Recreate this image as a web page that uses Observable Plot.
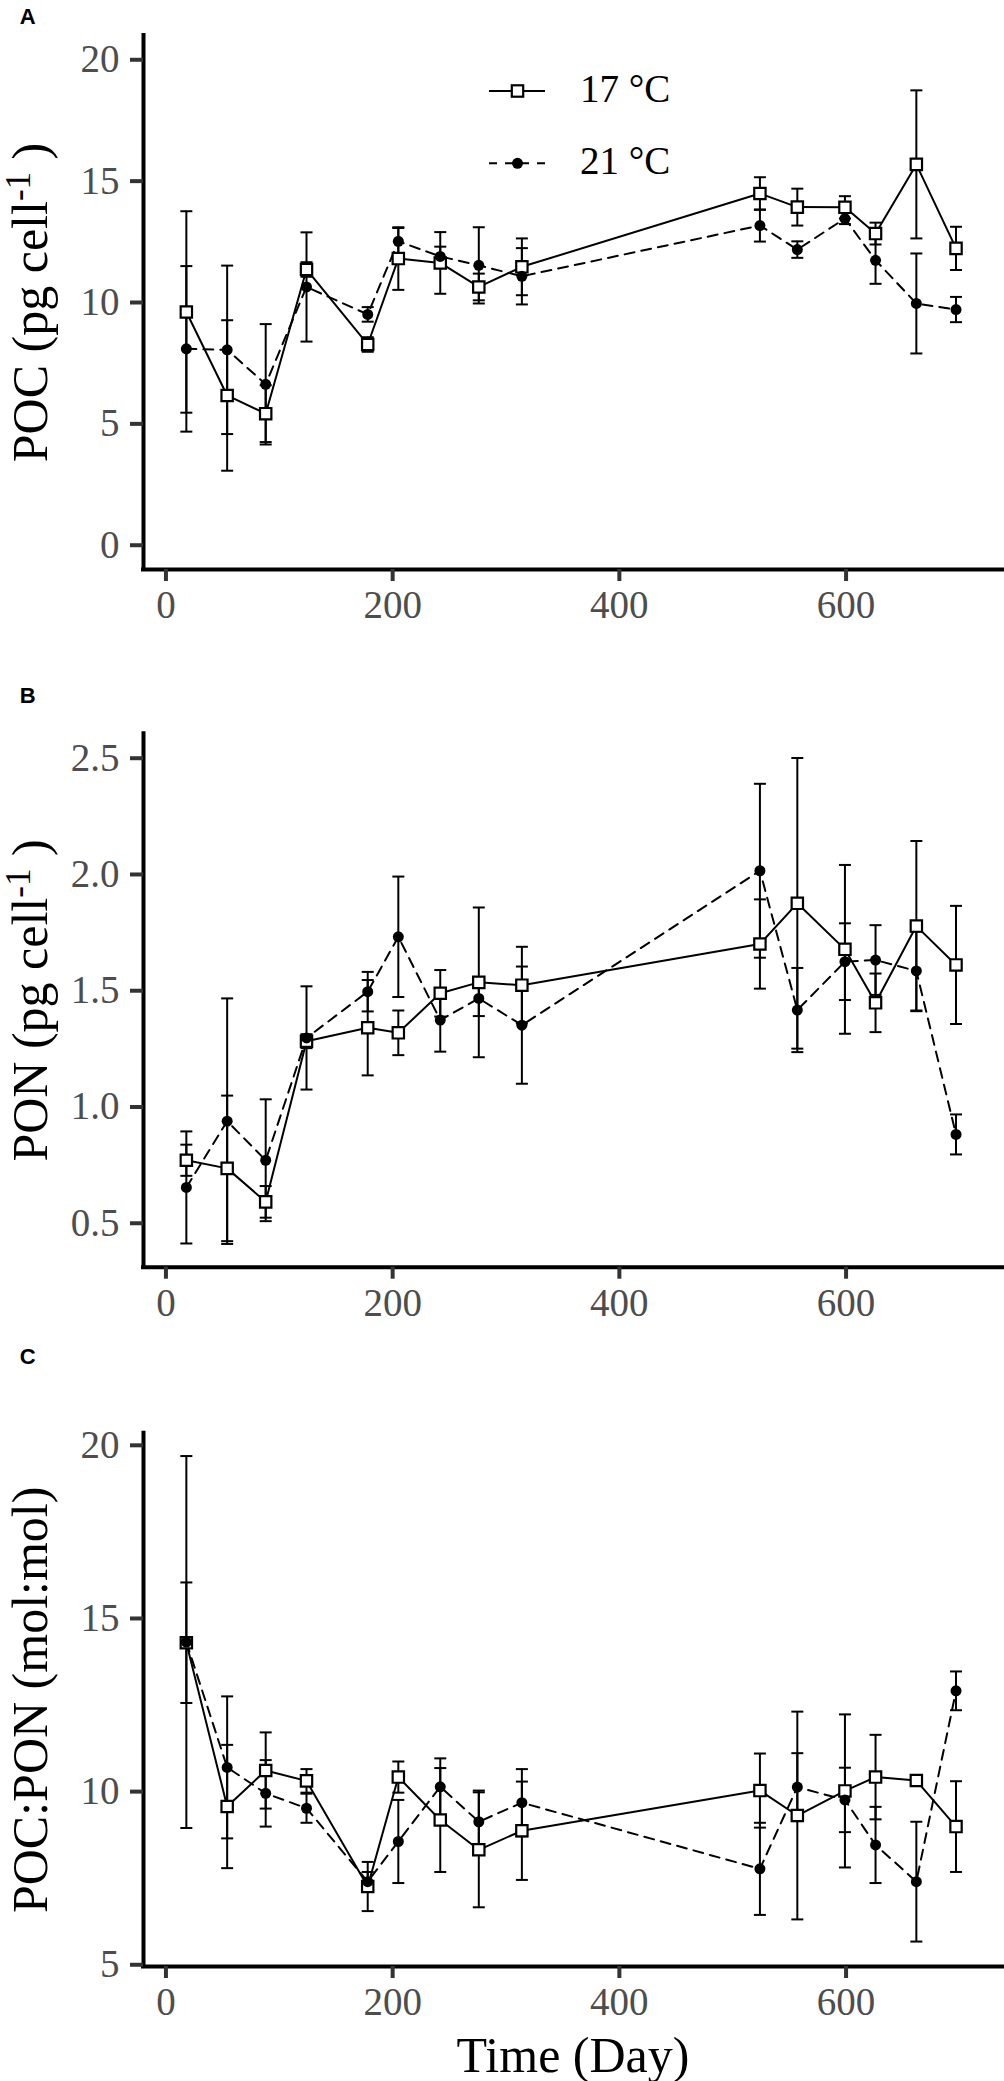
<!DOCTYPE html>
<html>
<head>
<meta charset="utf-8">
<script src="https://cdn.jsdelivr.net/npm/d3@7"></script>
<script src="https://cdn.jsdelivr.net/npm/@observablehq/plot@0.6"></script>
<style>
html, body { margin: 0; padding: 0; background: #ffffff; }
#chart { width: 1004px; position: relative; }
#chart svg { display: block; }
</style>
</head>
<body>
<div id="chart"></div>
<script>
// ---------- data ----------
const days = [18, 54, 88, 124, 178, 205, 242, 276, 314, 524, 557, 599, 626, 662, 697];
const seriesNames = ["17 °C", "21 °C"];

const poc17   = [9.61, 6.17, 5.42, 11.36, 8.27, 11.81, 11.63, 10.64, 11.47, 14.49, 13.93, 13.92, 12.84, 15.69, 12.23];
const poc17sd = [4.15, 3.10, 1.17, 0.30, 0.30, 1.29, 1.27, 0.55, 1.17, 0.67, 0.76, 0.46, 0.45, 3.05, 0.89];
const poc21   = [8.09, 8.05, 6.63, 10.64, 9.51, 12.52, 11.90, 11.53, 11.08, 13.17, 12.18, 13.46, 11.74, 9.96, 9.71];
const poc21sd = [3.41, 3.47, 2.48, 2.25, 0.30, 0.55, 0.40, 1.57, 1.16, 0.66, 0.34, 0.23, 0.97, 2.06, 0.52];

const pon17   = [0.771, 0.736, 0.592, 1.283, 1.341, 1.319, 1.489, 1.536, 1.524, 1.701, 1.876, 1.678, 1.448, 1.778, 1.611];
const pon17sd = [0.067, 0.313, 0.068, 0.030, 0.205, 0.096, 0.100, 0.322, 0.165, 0.192, 0.625, 0.363, 0.126, 0.366, 0.254];
const pon21   = [0.654, 0.939, 0.771, 1.297, 1.496, 1.732, 1.374, 1.467, 1.352, 2.016, 1.417, 1.625, 1.632, 1.585, 0.882];
const pon21sd = [0.241, 0.528, 0.262, 0.222, 0.085, 0.259, 0.136, 0.076, 0.252, 0.374, 0.181, 0.165, 0.150, 0.170, 0.086];

const cn17   = [14.30, 9.57, 10.61, 10.31, 7.26, 10.42, 9.18, 8.32, 8.87, 10.03, 9.31, 10.02, 10.42, 10.32, 8.99];
const cn17sd = [1.74, 1.78, 1.10, 0.34, 0.71, 0.45, 1.50, 1.66, 1.42, 1.07, 3.00, 2.21, 1.22, 0.15, 1.31];
const cn21   = [14.32, 10.70, 9.95, 9.52, 7.40, 8.56, 10.14, 9.13, 9.68, 7.77, 10.13, 9.76, 8.46, 7.40, 12.91];
const cn21sd = [5.37, 2.05, 0.96, 0.42, 0.28, 1.20, 0.82, 0.90, 0.97, 1.33, 0.98, 0.93, 1.10, 1.73, 0.56];

const xDomain = [-19.8, 738];
const xTicks = [0, 200, 400, 600];
const xLabel = "Time (Day)";

const pocTicks = [0, 5, 10, 15, 20];
const ponTicks = [0.5, 1.0, 1.5, 2.0, 2.5];
const cnTicks = [5, 10, 15, 20];

// ---------- panel definitions ----------
const panels = [
  {letter: "A", label: "POC (pg cell-1 )", m17: poc17, s17: poc17sd, m21: poc21, s21: poc21sd,
   yDomain: [-1, 21], yTicks: pocTicks, fmt: d3.format("d")},
  {letter: "B", label: "PON (pg cell-1 )", m17: pon17, s17: pon17sd, m21: pon21, s21: pon21sd,
   yDomain: [0.311, 2.605], yTicks: ponTicks, fmt: d3.format(".1f")},
  {letter: "C", label: "POC:PON (mol:mol)", m17: cn17, s17: cn17sd, m21: cn21, s21: cn21sd,
   yDomain: [4.95, 20.35], yTicks: cnTicks, fmt: d3.format("d")}
];
const layout = [
  {height: 660, marginTop: 35,   marginBottom: 91,  letterDy: -26.7},
  {height: 680, marginTop: 73.3, marginBottom: 73.3, letterDy: -46.6},
  {height: 741, marginTop: 92.7, marginBottom: 115, letterDy: -84.4}
];

const serif = "'Liberation Serif', 'Times New Roman', Times, serif";
const sans = "'Liberation Sans', Arial, Helvetica, sans-serif";

const capSymbol = {
  draw(context, size) {
    const w = Math.sqrt(size / Math.PI);
    context.moveTo(-w, 0);
    context.lineTo(w, 0);
  }
};

const chart = document.getElementById("chart");

panels.forEach((p, idx) => {
  const L = layout[idx];
  const rows17 = days.map((d, i) => ({day: d, mean: p.m17[i], sd: p.s17[i], series: seriesNames[0]}));
  const rows21 = days.map((d, i) => ({day: d, mean: p.m21[i], sd: p.s21[i], series: seriesNames[1]}));
  const rowsAll = rows17.concat(rows21);

  const marks = [
    Plot.ruleY([p.yDomain[0]], {stroke: "black", strokeWidth: 4, strokeLinecap: "square"}),
    Plot.ruleX([xDomain[0]], {stroke: "black", strokeWidth: 4, strokeLinecap: "square"}),
    Plot.axisX(xTicks, {tickSize: 12, tickPadding: 9, fontSize: 39, color: "#4d4d4d", stroke: "#333333", strokeWidth: 4, label: null}),
    Plot.axisY(p.yTicks, {tickSize: 13, tickPadding: 11, fontSize: 39, color: "#4d4d4d", stroke: "#333333", strokeWidth: 4, tickFormat: p.fmt, label: null}),
    Plot.line(rows17, {x: "day", y: "mean", stroke: "black", strokeWidth: 2}),
    Plot.line(rows21, {x: "day", y: "mean", stroke: "black", strokeWidth: 2, strokeDasharray: "10,7"}),
    Plot.ruleX(rowsAll, {x: "day", y1: d => d.mean - d.sd, y2: d => d.mean + d.sd, stroke: "black", strokeWidth: 2}),
    Plot.dot(rowsAll, {x: "day", y: d => d.mean + d.sd, symbol: capSymbol, r: 6, stroke: "black", strokeWidth: 2, fill: "none"}),
    Plot.dot(rowsAll, {x: "day", y: d => d.mean - d.sd, symbol: capSymbol, r: 6, stroke: "black", strokeWidth: 2, fill: "none"}),
    Plot.dot(rows17, {x: "day", y: "mean", symbol: "square", r: 6.4, fill: "white", stroke: "black", strokeWidth: 2.2}),
    Plot.dot(rows21, {x: "day", y: "mean", symbol: "circle", r: 5.5, fill: "black", stroke: "none"}),
    Plot.text([p.letter], {text: d => d, frameAnchor: "top-left", dx: -123.7, dy: L.letterDy, fontFamily: sans,
      fontWeight: "bold", fontSize: 22, textAnchor: "start", lineAnchor: "top", fill: "black"}),
    Plot.text([p.label], {text: d => d, frameAnchor: "left", rotate: -90, dx: -113, fontSize: 50,
      textAnchor: "middle", lineAnchor: "middle", fill: "black"})
  ];
  if (idx === 2) {
    marks.push(Plot.text([xLabel], {text: d => d, frameAnchor: "bottom", dy: 89, fontSize: 50,
      textAnchor: "middle", lineAnchor: "middle", fill: "black"}));
  }

  const svg = Plot.plot({
    width: 1004,
    height: L.height,
    marginLeft: 143,
    marginRight: 2,
    marginTop: L.marginTop,
    marginBottom: L.marginBottom,
    style: {fontFamily: serif, background: "white", color: "black", overflow: "visible"},
    x: {domain: xDomain},
    y: {domain: p.yDomain},
    marks
  });

  // superscript "-1" in the unit labels
  d3.select(svg).selectAll("text").filter(function () { return this.textContent === p.label; })
    .each(function () {
      if (!p.label.includes("cell-1")) return;
      const t = d3.select(this);
      const parts = p.label.split("-1");
      t.text(null);
      t.append("tspan").text(parts[0]);
      t.append("tspan").attr("dy", -17).attr("font-size", "70%").text("-1");
      t.append("tspan").attr("dy", 17).text(parts[1]);
    });

  // legend (panel A only)
  if (idx === 0) {
    const g = d3.select(svg).append("g").attr("font-family", serif).attr("font-size", 39)
      .attr("fill", "black").attr("text-anchor", "start");
    const rowsY = [91, 163.3];
    seriesNames.forEach((name, k) => {
      const y = rowsY[k];
      g.append("line").attr("x1", 489).attr("x2", 545).attr("y1", y).attr("y2", y)
        .attr("stroke", "black").attr("stroke-width", 2)
        .attr("stroke-dasharray", k === 1 ? "8,8" : null);
      if (k === 0) {
        g.append("rect").attr("x", 517.5 - 5.7).attr("y", y - 5.7).attr("width", 11.4).attr("height", 11.4)
          .attr("fill", "white").attr("stroke", "black").attr("stroke-width", 2.2);
      } else {
        g.append("circle").attr("cx", 517.5).attr("cy", y).attr("r", 5.5).attr("fill", "black");
      }
      g.append("text").attr("x", 580).attr("y", y + 10.5).attr("text-anchor", "start").text(name);
    });
  }

  chart.appendChild(svg);
});
</script>
</body>
</html>
